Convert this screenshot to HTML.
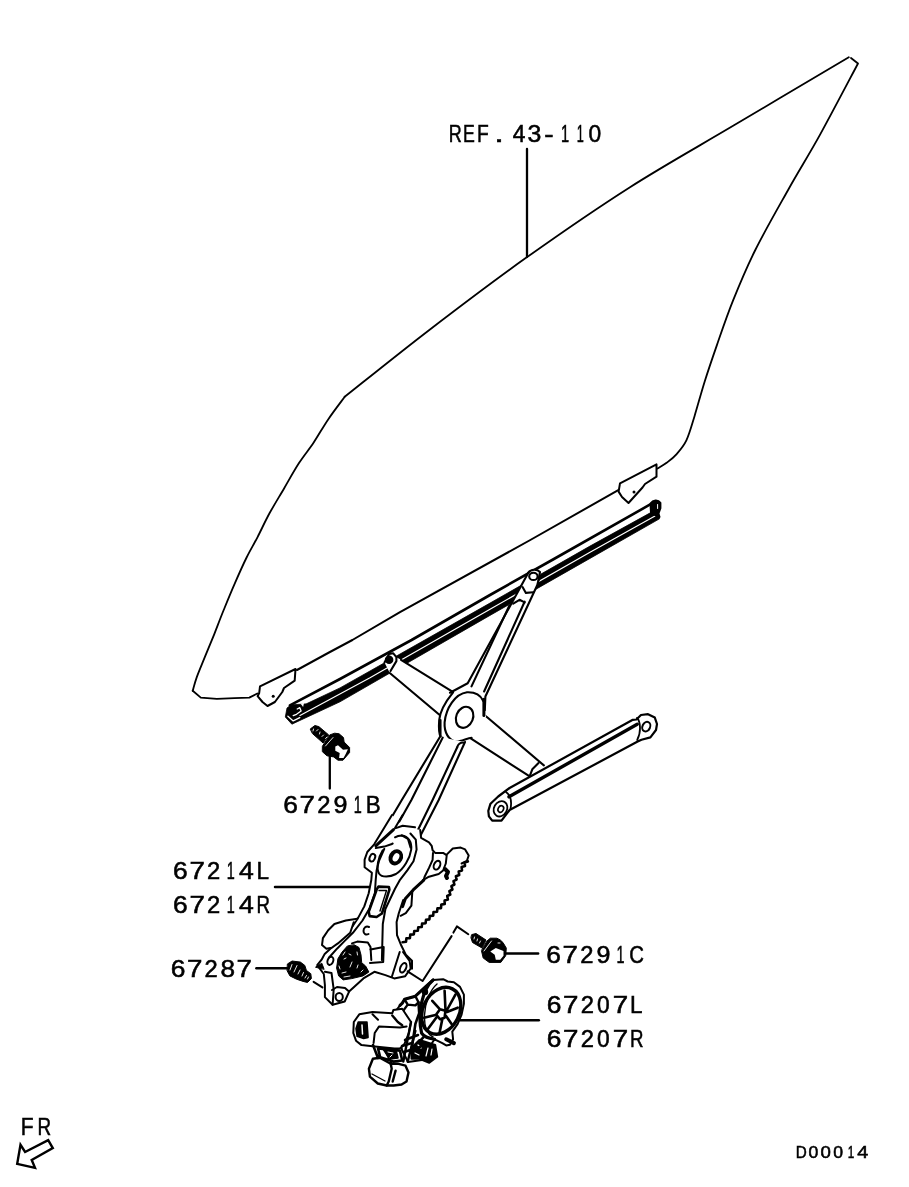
<!DOCTYPE html>
<html><head><meta charset="utf-8">
<style>
html,body{margin:0;padding:0;background:#fff;width:909px;height:1187px;overflow:hidden}
svg{position:absolute;left:0;top:0;display:block;will-change:transform}
.t{font-family:"Liberation Sans",sans-serif;font-size:23px;fill:#000;stroke:#000;stroke-width:0.55px}
</style></head><body>
<svg width="909" height="1187" viewBox="0 0 909 1187">
<g fill="none" stroke="#000" stroke-width="2" stroke-linejoin="round" stroke-linecap="round">
<!-- glass -->
<path id="glass" stroke-width="1.8" d="M848.8,57.2 C829.7,68.5 770.9,103.4 734.4,125.1 C697.9,146.8 664.7,165.1 630.0,187.2 C595.3,209.3 559.9,233.8 526.4,257.6 C492.9,281.4 459.3,307.0 429.0,330.2 C398.7,353.4 358.8,385.7 344.7,396.8"/>
<path stroke-width="1.8" d="M344.7,396.8 C342.0,400.5 333.7,411.3 328.5,418.9 C323.3,426.5 318.6,435.1 313.7,442.5 C308.8,449.9 303.9,455.5 299.0,463.1 C294.1,470.7 289.1,479.8 284.2,488.2 C279.3,496.6 273.9,505.2 269.5,513.3 C265.1,521.4 261.5,529.4 257.7,536.8 C253.9,544.2 250.5,549.6 246.6,557.5 C242.7,565.4 238.2,575.6 234.4,584.4 C230.6,593.1 227.1,601.7 223.7,610.0 C220.3,618.3 217.3,626.4 214.2,634.3 C211.0,642.2 207.7,650.0 204.8,657.2 C201.9,664.4 198.7,671.8 196.7,677.4 C194.7,683.0 193.4,688.6 192.7,690.8"/>
<path stroke-width="1.8" d="M192.7,690.8 L200.8,697.6 L216.9,698.9 L234.4,698.2 L249.3,697.6 L257.3,693.5"/>
<path stroke-width="1.8" d="M851,58 L858,63.5  C851.7,75.3 831.7,113.5 820.2,134.4 C808.7,155.3 799.6,169.4 788.8,188.7 C778.0,208.0 764.6,231.3 755.3,250.0 C746.0,268.6 739.4,284.8 733.0,300.6 C726.6,316.5 721.6,331.6 716.9,345.1 C712.2,358.6 708.4,369.7 704.7,381.5 C701.0,393.3 697.6,406.1 694.6,415.9 C691.6,425.7 689.5,433.7 686.5,440.1 C683.5,446.5 679.6,450.6 676.4,454.3 C673.1,458.0 670.2,460.1 667.0,462.5 C663.8,464.9 659.0,467.5 657.4,468.5"/>
<path d="M656.5,464.4 L656.5,476.7 L645,484 L642.5,487.5 L628.5,503 L622,497 L618.6,491.6 L620,483.3 Z"/>
<path d="M617.8,490.4 L530.3,540 L400,612.2 L352.4,640 L329,652.5 L297,670"/>
<path d="M295.5,669 L294.7,680.6 L284,688 L282.3,692 L274.9,702 L267.5,706 L262.5,702 L257.6,696.2 L259.2,693 L260,686.3 Z"/>
<!-- REF leader -->
<path stroke-width="2.3" d="M527,149 L527,257"/>
</g>
<g fill="#000">
<circle cx="634" cy="492" r="1.5"/>
<circle cx="273.2" cy="696.2" r="1.5"/>
</g>

<!-- upper rail -->
<g id="rail" fill="none" stroke="#000" stroke-linejoin="round" stroke-linecap="round">
<path stroke-width="2.6" d="M289.9,705.4 L340,679 L411.6,640 L490,595 L553.9,559 L652.4,503.2"/>
<path fill="#000" stroke-width="0.8" d="M306.4,703.8 L340,687.9 L370,671 L490,603.1 L590,546.1 L650.7,512.6 L657.8,513.5 L659.5,518.8 L590,558.4 L490,615.4 L370,684.5 L340,701.8 L291.9,724.2 L285.3,717 L287,708 L291,705 Z"/>
<path stroke="#fff" stroke-width="1.2" d="M300,715.5 L370,677.8 L490,609.3 L590,552.2 L655,516"/>
<path stroke="#fff" stroke-width="1.3" d="M287.9,716.3 L293.2,720.9 L299.8,717.6 M297.2,709 L299.8,707.7 L301.1,711 L296.5,714.3 L293.2,715.6"/><path fill="#fff" stroke="none" d="M300.5,703.6 L304,703 L303.1,707 Z"/>
<path fill="#000" stroke-width="2" d="M650.5,503.5 C653,500 658,499.5 660.4,502.9 L660.4,508.2 L658.5,513.5 L659.5,517 L651,513 Z"/><path stroke="#fff" stroke-width="1" d="M657.6,504.5 L657.6,508.5"/>
</g>
<!-- linkage -->
<g fill="none" stroke="#000" stroke-width="2.1" stroke-linejoin="round" stroke-linecap="round">
<!-- cross link -->
<path fill="#fff" stroke="none" d="M384.5,662.4 L389.1,653.9 L393.1,653.2 L396.4,657.2 L401,659.8 L453.6,692.3 L486,716.3 L543.9,765.4 L530,775.4 L470.3,738.2 L440,715.3 L389.8,673 Z"/>
<path d="M384.5,662.4 L389.1,653.9 L393.1,653.2 L396.4,657.2 L396.4,661.1 L390.5,671"/>
<path d="M401,659.8 L453.6,692.3"/>
<path d="M389.8,673 L440,715.3"/>
<path d="M486,716.3 L543.9,765.4"/>
<path d="M470.3,738.2 L529.3,776.2"/>
<path d="M538.5,763.1 L532.3,769.3 L530,775.4"/>
<circle cx="389.1" cy="659.8" r="3.2" fill="#000"/>
<!-- upper arm -->
<path fill="#fff" stroke="none" d="M528.4,572.6 L533,569 L541,572 L538.5,580.2 L537.2,585.3 L485.4,696.5 L484.8,715 L446,735 L440,715 L450,692.7 L467.7,683.3 L520.8,586.5 Z"/>
<path d="M528.4,572.6 L520.8,586.5 L467.7,683.3 L450.0,692.7"/>
<path d="M509.4,605.5 L471.5,686.4"/>
<path d="M524.6,601.7 L484.1,691.5"/>
<path d="M538.5,580.2 L537.2,585.3 L485.4,696.5 L484.8,710.1"/>
<path d="M513.2,603.6 L519.5,599.8 L524.6,602.4"/>
<path d="M522.7,587.2 L525.9,592.9 L533.4,592.2"/>
<ellipse cx="533.4" cy="576.4" rx="4.2" ry="3.6"/>
<path d="M528.4,572.6 C531,569 537,569 540,572 L538.5,580.2"/>
<!-- hub -->
<path fill="#fff" stroke="none" d="M483.1,700.8 L476.2,692.7 L467.0,692.3 L453.1,692.3 L441.5,710.8 L438.9,733.9 L440.8,737.0 L455.4,741.6 L471.6,737.7 L486,716.3 Z"/>
<path d="M483.1,700.8 C480,694 474,692 467,692.3 C455,694 446,708 444.6,722.3 C444,733 449,740 455.4,741.6 C461,742 467,738 471.6,737.7"/>
<path d="M453.1,692.3 C446,701 440,711 439.2,720 C438.6,728 439,734 440.8,737"/>
<path stroke-width="3" d="M483.9,699.2 L483.9,715.4"/>
<ellipse cx="464.6" cy="717.3" rx="8.4" ry="10.8" transform="rotate(22 464.6 717.3)"/>
<!-- lower arm -->
<path fill="#fff" stroke="none" d="M438.7,736.7 L375.2,845 L420.8,835 L465,742 Z"/>
<path d="M440.5,720 L440.5,736 L401.8,800 L375.2,845"/>
<path d="M442.7,737.6 L411.4,800 L395,829.3"/>
<path d="M457.2,747.3 L432.6,800 L414,838"/>
<path d="M457.2,747.3 C458,744 461,742.5 463.5,742.5"/>
<path d="M465,742 L438.7,800 L420.8,835"/>
</g>
<!-- lower rail -->
<g fill="none" stroke="#000" stroke-width="2.2" stroke-linejoin="round" stroke-linecap="round">
<path fill="#fff" d="M509.6,788 L632.8,719.8 L636.4,719.5 L641,715 L648,714.2 L654.8,717.6 L657,724 L656,730 L650.4,737.4 L641.5,739.8 L637.2,741.8 L509.6,810 L501.5,820.7 L492.2,820.7 L488.9,816.3 L488.3,810.8 L490.5,803.7 L498.2,796.5 Z"/>
<path stroke-width="3.4" d="M509,796.8 L637.2,724.2"/>
<ellipse cx="500.5" cy="808.8" rx="6.5" ry="8" stroke-width="1.8" transform="rotate(30 500.5 808.8)"/>
<ellipse cx="500.8" cy="809" rx="2.6" ry="3.4" stroke-width="1.6" transform="rotate(30 500.8 809)"/>
<ellipse cx="646.3" cy="726.6" rx="3.8" ry="5" stroke-width="2" transform="rotate(25 646.3 726.6)"/>
<path stroke-width="1.8" d="M506,792 C510.5,795 512,801 510.5,809"/>
<path stroke-width="1.8" d="M637,718 C641,722 641,733 637.2,740"/>
</g>
<!-- base plate -->
<g fill="none" stroke="#000" stroke-width="2" stroke-linejoin="round" stroke-linecap="round">
<path fill="#fff" stroke="none" d="M392,815 L374.2,844.3 L364.6,859.6 L364.6,867.3 L371.9,872.7 L371.3,880 L364.3,906.4 L352.9,925.8 L334.4,945.1 L321.6,959.7 L317.2,965.2 L323.8,974 L324.9,997.1 L332.6,1004.8 L344.7,1001.5 L349.1,991.6 L363.4,978.4 L374.4,971.8 L394.2,978.4 L405.2,976.2 L410.7,968.5 L409.6,960.8 L403,952 L397,935 L398.8,913.2 L405.3,898.7 L423.8,880.2 L438.7,874 L445.8,863.5 L446.7,855.5 L435.2,852.9 L432.6,850.2 L429,842.3 L421.1,837.9 L420.2,830 L402.7,825.8 Z"/>
<path d="M392.0,815.0 L374.2,844.3 L367.3,852.0 L364.6,859.6 L364.6,867.3 L371.9,872.7 L371.3,880.0 L368.7,893.2 L364.3,906.4 L358.1,917.9 L352.9,925.8 L345.8,934.6 L334.4,945.1 L324.7,953.9 L321.6,959.7 L317.2,965.2 L323.8,974.0 L324.9,985.0 L324.9,997.1 L332.6,1004.8 L344.7,1001.5 L349.1,991.6 L363.4,978.4 L374.4,971.8 L385.4,975.1 L394.2,978.4 L405.2,976.2 L410.7,968.5 L409.6,960.8 L403.0,952.0"/>
<path d="M402.7,815.0 L395.0,828.1"/>
<path stroke-width="3" d="M393.5,829.6 L375.8,845.8"/>
<path d="M375.8,848.1 L384.3,846.6 L391.2,844.3 L392.7,843.5"/>
<path d="M395.8,828.1 L402.7,825.8 L415.0,827.3"/>
<path d="M410.4,833.5 L415.8,839.6 L416.6,849.6 L413.5,861.2 L407.3,870.4 L399.6,880.4 L395,888.8 L385.4,909.0 L382.8,924.0 L381.9,960.0"/>
<path d="M384.3,848.9 L378.9,861.2 L376.6,870.4 L375.7,880.0 L374.9,893.2 L369.6,908.2 L362.5,920.5 L352.9,932.8 L344.0,941.6 L337.0,948.7 L329.1,957.5"/>
<path d="M382.7,850.4 C378,858 376,868 379,873.5 C382,878 390,877 396,874 C404,869 410,858 411.2,849.6 C412,842 408,836 402,835.5 C399,835.5 397,836 395,837.3"/>
<ellipse cx="395.8" cy="857.3" rx="7" ry="8.4" fill="#000" stroke="none" transform="rotate(28 395.8 857.3)"/><ellipse cx="396" cy="857.3" rx="3" ry="4.4" fill="#fff" stroke="none" transform="rotate(28 396 857.3)"/>
<ellipse cx="372.3" cy="857.7" rx="2.6" ry="4" transform="rotate(25 372.3 857.7)"/>
<path d="M420.2,830.0 L421.1,837.9 L429.0,842.3 L431.7,845.8 L432.6,850.2 L435.2,852.9 L443.1,852.9 L445.8,854.6"/>
<path d="M433.0,852.9 L432.6,859.9 L429.0,867.9 L424.6,876.7 L423.8,879.3"/>
<path d="M446.7,855.5 L445.8,863.5 L443.1,870.5 L438.7,874.0 L429.0,876.7 L422.9,880.2"/>
<ellipse cx="437" cy="865.2" rx="3" ry="4.6" transform="rotate(25 437 865.2)"/>
<path stroke-width="4" d="M445,869 L448,872 L446,876 L447,878"/>
<path d="M446.7,854.6 L452.8,848.5 L460.7,847.6 L465.1,849.4 L468.7,855.5 L466.9,860.8 L461.6,863.5"/>
<path stroke-width="2.6" d="M467.9,861.4 L464.6,862.5 L465.0,865.9 L461.6,867.0 L462.0,870.4 L458.7,871.5 L459.2,875.0 L455.9,876.2 L456.6,879.6 L453.5,881.1 L454.4,884.5 L451.4,886.2 L452.4,889.5 L449.4,891.2 L450.3,894.5 L447.2,896.0 L447.9,899.5 L444.6,900.6 L444.7,904.0 L441.3,904.6 L441.0,908.1 L437.5,908.3 L437.0,911.8 L433.5,912.1 L433.2,915.6 L429.8,916.0 L429.4,919.4 L426.0,919.8 L425.6,923.2 L422.1,923.6 L421.7,927.0 L418.3,927.3 L417.8,930.8 L414.3,931.0 L413.8,934.4 L410.3,934.6 L409.9,938.1 L406.4,938.3 L406.0,941.8 L402.5,942.2"/>
<path stroke-width="3" d="M423.8,880.2 L413.2,889.9 L405.3,898.7 L402.6,906.6"/>
<path d="M412.3,891.6 L411.4,905.7 L405.8,913.2 L400.6,915.8"/>
<path d="M403.2,900 L398.8,913.2 L396.6,922 L397,935.2 L401.4,945.8 L405.8,954.6 L412,960.7 L412,968.7"/>
<path d="M401.8,835.3 L407.9,838.8 L410.6,847.6"/>
<path stroke-width="2.6" d="M378.4,886.6 L388.9,887.0 L389.4,889.7 L381.9,913.5 L376.6,917.0 L369.6,916.1 L368.7,911.7 L376.6,889.7 Z"/><path stroke-width="1.4" d="M379,890.5 L386.5,890.5 L380,911"/>
<path fill="#fff" d="M357.3,918.7 L345.8,920.5 L334.4,924.0 L328.2,930.2 L322.9,938.1 L322.0,945.1 L326.4,948.7 L331.7,947.8 L337.9,943.4 L350.2,932.8 L353.7,922.3"/>
<path d="M369,927 C366,925.5 363.5,928 363.5,931 C363.5,934 366,935.5 368.5,934"/>
<path d="M352.0,943.4 L357.3,941.6 L367.8,942.5 L370.5,946.9 L371.3,960.0"/>
<path d="M370.5,949.5 L383.7,946.9 L383.2,961.9 L370,963"/>
<path fill="#000" stroke-width="1" d="M354.4,944.9 L359,947.5 L361,954.8 L361.7,962.7 L365.6,966 L368.9,972 L363,975.9 L351.8,978.6 L343.2,979.9 L338.6,975.9 L336.6,968 L337.9,958.8 L341.9,952.2 L347.2,946.2 Z"/>
<path stroke="#fff" stroke-width="0.9" d="M343,955 L345,952 M349,954 L351,955 M344,959 L346,958 M352,962 L350,967 M339,966 L340,969 M342,973 L346,972 M344,977 L350,976 M357,952 L357.5,955 M358,965 L357,968 M363,970 L361,972"/>
<path d="M324.9,971.8 L331.5,972.9 L333.7,989.4 L332.6,1004.8"/>
<ellipse cx="330.4" cy="960.8" rx="2.8" ry="4.2" transform="rotate(20 330.4 960.8)"/>
<ellipse cx="339.2" cy="997.1" rx="3.6" ry="4"/>
<path d="M332,990 L337,987 L345,988 L349,991.6"/>
<path d="M399.7,952.0 L392.0,976.2"/>
<ellipse cx="403.2" cy="967.8" rx="2.8" ry="5" transform="rotate(25 403.2 967.8)"/>
<path d="M453.4,932.6 L456.9,926.4 L468.3,934.3"/>
<path d="M451.6,936.1 L422.6,981 L407.6,971.3"/>
<path stroke-width="2.5" d="M275,887 L369,887"/>
</g>
<!-- motor -->
<g fill="none" stroke="#000" stroke-width="2" stroke-linejoin="round" stroke-linecap="round">
<path fill="#fff" d="M400,1005.4 L402.3,1003.1 L404.6,999.3 L415.4,996.2 L426.2,986.2 L433.1,980 L443.1,979.2 L447.7,981.5 L453.9,982.3 L460,986.9 L463.9,994.6 L463.9,1003.9 L461.6,1014.6 L457.7,1023.9 L452.3,1031.6 L453.1,1039.3 L450,1044.7 L446.2,1045.4 L442.3,1043.1 L434.6,1039.3 L430,1046 L422,1060 L408,1062 L402,1050 L395,1012 Z"/>
<path stroke-width="3.2" d="M433.1,980 C428,984 424,992 421.5,1003 C419.5,1013 419.5,1024 421.6,1033.1 C424,1037 428,1038 434.6,1039.3"/>
<path stroke-width="1.4" d="M437,984 C430,990 425,1003 424.5,1015 C424,1027 427,1034 433,1037"/>
<ellipse cx="441.2" cy="1010.8" rx="18.1" ry="24.6" stroke-width="3.4" transform="rotate(27 441.2 1010.8)"/>
<path stroke-width="2.6" d="M436.2,1014.6 L440.0,1009.3 L445.4,1010.8 L444.6,1017.7 L440.0,1019.3 Z M440.0,1009.3 L432.3,1000.8 M445.4,1008.5 L444.6,990.8 M447.0,1010.0 L455.4,994.6 M447.0,1012.0 L457.7,1007.7 M446.2,1016.2 L451.6,1023.9 M442.3,1019.3 L439.3,1033.9 M436.2,1017.7 L427.7,1029.3 M435.4,1015.0 L423.9,1017.7"/>
<path stroke-width="3" d="M433.1,980.0 L426.2,986.2 L415.4,996.2 L404.6,999.3 L402.3,1003.1 L400.0,1005.4"/>
<path stroke-width="2.4" d="M404.6,999.3 L407.7,1004.6 L415.4,1005.4 L418.5,1002.3 L415.4,996.2 M407.7,1004.6 L401.5,1013.1"/>
<path stroke-width="2.6" d="M418.5,1002.3 L419.2,1013.1 L415.4,1023.9 L411.5,1050.0 M423.1,1037.7 L411.5,1050.0"/>
<circle cx="425" cy="992" r="2.2" fill="#000"/>
<path stroke-width="4" d="M446.2,1039.3 L453.9,1043.1"/>
<path fill="#fff" d="M359.3,1014.3 L372.5,1012.1 L392.3,1013.2 L393.4,1009.9 L402.2,1008.8 L411,1022 L408.8,1033 L404.4,1044 L400,1048.4 L394.5,1048.4 L372.5,1046.2 L361.5,1045.1 L356,1040.7 L353.3,1033 L353.8,1022 Z"/>
<path fill="#000" stroke-width="1.5" d="M358.2,1022 L367,1022 L368.1,1037.4 L363.7,1038.5 L357.1,1036.3 L356,1028.6 Z"/>
<path stroke="#fff" stroke-width="1.5" d="M362,1025 L362.5,1034"/>
<path d="M373.6,1042.9 L374.7,1033 L379.1,1026.4 L400,1027.5 L406.6,1026.4"/>
<path d="M372.5,1014.3 L378.0,1019.8"/>
<path stroke-width="2.4" d="M392.3,1015.4 L397.8,1022.0 L402.2,1025.3"/>
<path stroke-width="2.4" d="M411.0,1022.0 L403.3,1061.6 M415.4,1030.8 L407.7,1061.6"/>
<path fill="#fff" stroke-width="2.4" d="M372.9,1058.8 L379.8,1057.8 L390.7,1063.7 L397.6,1063.7 L405.5,1065.7 L408.5,1072.6 L406.5,1081.5 L401.6,1084.5 L393.7,1085.5 L386.7,1085.5 L377.8,1083.5 L369.9,1076.6 L368.9,1068.7 Z"/>
<path stroke-width="2.4" d="M390.7,1063.7 L391.7,1068.7 L388.7,1081.5 L386.7,1085.5 M395.6,1070.6 L392.7,1081.5"/>
<path stroke-width="1.3" d="M372,1074 L385,1081"/>

<path fill="#000" stroke-width="2" d="M411.5,1047.9 L419.4,1040 L435.2,1044.9 L437.2,1056.8 L429.3,1062.7 L419.4,1058.8 L411.5,1058.8 Z"/><path stroke="#fff" stroke-width="1.2" d="M428,1048 L426,1056 M432,1049 L431,1055 M418,1045 L421,1048 M415,1053 L419,1055"/>
<path stroke-width="2.6" d="M378.0,1048.4 L400.0,1050.6 L402.2,1060.5 L393.4,1061.6 L380.2,1057.2 Z M373,1045 L378,1058 M386,1052 L391,1062"/><path fill="#000" stroke-width="1.5" d="M383,1049 L396,1050 L398,1058 L390,1059 Z"/><path stroke="#fff" stroke-width="1" d="M388,1052 L393,1053 M392,1055 L390,1057"/>
<path stroke-width="2.5" d="M405,1040 L418,1035 M404,1052 L420,1047 M402,1046 L412,1043"/>
<path stroke-width="2.5" d="M460.1,1020.3 L538.8,1020.3"/>
</g>
<!-- bolts -->
<g fill="#000" stroke="#000" stroke-width="1" stroke-linejoin="round" stroke-linecap="round">
<!-- 67291B -->
<path d="M310.5,728.8 L314.9,725.5 L318.8,726.6 L328.7,734.9 L323.2,743.1 L312.7,733.8 Z"/>
<path d="M322.6,745.9 L329.8,734.9 L334.7,733.2 L339.1,733.8 L343.5,737.6 L344.1,742 L349.6,747.5 L349.6,752.5 L343,760.2 L338,760.2 L333.6,756.9 L327,755.8 L322.6,751.9 Z"/>
<path fill="#fff" stroke="none" d="M335.3,746.4 L338,745.3 L343,749.7 L347.9,749.2 L345.7,754.1 L343.5,758 L339.1,758 L339.7,753 L335.3,750.8 Z"/>
<path fill="none" stroke="#fff" stroke-width="0.9" d="M313.5,729 L313,731 M316.5,731 L318,729.5 M319.5,734 L320,732 M322,736.5 L323.5,735 M325.5,738.5 L327,737 M325.5,746 L333,737.5"/>
<path fill="none" stroke-width="2.3" d="M329.8,756 L329.8,788.5"/>
<!-- 67291C -->
<path d="M472,934.5 L476,933.5 L486,940 L482,948 L472.5,942.5 L471,938 Z"/>
<path d="M481.5,950.9 L483.2,958 L489.2,962.4 L500.8,962.4 L505.7,955.8 L506.3,948.1 L503,942.6 L500.2,939.9 L496.9,938.2 L490.3,938.2 L487,941 Z"/>
<path fill="#fff" stroke="none" d="M490.3,951.4 L495.8,948.1 L503.5,950.9 L503.5,955.8 L500.2,959.7 L495.8,959.7 L494.7,954.7 Z"/>
<path fill="none" stroke="#fff" stroke-width="0.9" d="M474.5,937 L474,939 M477.5,939 L477,941 M480.5,941 L479.5,943 M484,951 L491.5,941 M498,943 L500,943"/>
<path fill="none" stroke-width="2.5" d="M506,953.6 L538.1,953.6"/>
<!-- 67287 -->
<path d="M287.7,963.8 L292.1,961 L300.4,962.1 L304.8,965.4 L306.4,970.4 L310.8,973.7 L311.4,978.6 L307.5,982.5 L303.1,981.4 L296.5,979.2 L289.9,975.9 L287.2,970.9 Z"/>
<path fill="none" stroke="#fff" stroke-width="0.9" d="M290,970 L292,964.5 M294,972 L297,965.5 M298,974 L300,970 M302,976 L303.5,972.5 M305,978 L306.5,975.5 M307.5,979 L308.5,977"/>
<path fill="none" stroke-width="2.5" d="M256.4,968.2 L287.2,968.2"/>
<path fill="none" stroke-width="2" d="M313.6,981.9 L322.4,987.4"/>
<path d="M315.8,967 L321.8,963.2 L324,969 Z"/>
</g>
<!-- FR arrow -->
<path fill="none" stroke="#000" stroke-width="2.4" stroke-linejoin="miter" d="M48.2,1140.2 L52.8,1148.1 L31.7,1160 L35,1167.9 L17.2,1163.9 L20.5,1144.8 L25.1,1152 Z"/>
<!-- labels -->
<g class="t">
<text transform="translate(455.55,141.5) scale(0.750,1)" x="-9.00" y="0" style="font-size:24px">R</text>
<text transform="translate(469.20,141.5) scale(0.738,1)" x="-8.50" y="0" style="font-size:24px">E</text>
<text transform="translate(483.30,141.5) scale(0.800,1)" x="-8.00" y="0" style="font-size:24px">F</text>
<text transform="translate(499.15,141.5) scale(1.433,1)" x="-3.50" y="0" style="font-size:24px">.</text>
<text transform="translate(519.40,141.5) scale(0.950,1)" x="-7.00" y="0" style="font-size:24px">4</text>
<text transform="translate(534.30,141.5) scale(1.036,1)" x="-6.50" y="0" style="font-size:24px">3</text>
<text transform="translate(548.90,141.5) scale(1.167,1)" x="-4.00" y="0" style="font-size:24px">-</text>
<text transform="translate(565.15,141.5) scale(0.610,1)" x="-7.00" y="0" style="font-size:24px">1</text>
<text transform="translate(580.55,141.5) scale(0.530,1)" x="-7.00" y="0" style="font-size:24px">1</text>
<text transform="translate(595.10,141.5) scale(0.950,1)" x="-7.00" y="0" style="font-size:24px">0</text>
<text transform="translate(290.30,812.5) scale(1.100,1)" x="-6.50" y="0" style="font-size:24px">6</text>
<text transform="translate(306.98,812.5) scale(1.155,1)" x="-6.50" y="0" style="font-size:24px">7</text>
<text transform="translate(323.66,812.5) scale(0.991,1)" x="-6.50" y="0" style="font-size:24px">2</text>
<text transform="translate(340.34,812.5) scale(1.045,1)" x="-6.50" y="0" style="font-size:24px">9</text>
<text transform="translate(357.92,812.5) scale(0.600,1)" x="-7.00" y="0" style="font-size:24px">1</text>
<text transform="translate(373.70,812.5) scale(0.931,1)" x="-8.50" y="0" style="font-size:24px">B</text>
<text transform="translate(180.25,879) scale(1.100,1)" x="-6.50" y="0" style="font-size:24px">6</text>
<text transform="translate(196.89,879) scale(1.155,1)" x="-6.50" y="0" style="font-size:24px">7</text>
<text transform="translate(213.53,879) scale(0.991,1)" x="-6.50" y="0" style="font-size:24px">2</text>
<text transform="translate(231.07,879) scale(0.600,1)" x="-7.00" y="0" style="font-size:24px">1</text>
<text transform="translate(246.81,879) scale(1.108,1)" x="-7.00" y="0" style="font-size:24px">4</text>
<text transform="translate(263.45,879) scale(0.936,1)" x="-7.50" y="0" style="font-size:24px">L</text>
<text transform="translate(180.25,912.8) scale(1.100,1)" x="-6.50" y="0" style="font-size:24px">6</text>
<text transform="translate(196.89,912.8) scale(1.155,1)" x="-6.50" y="0" style="font-size:24px">7</text>
<text transform="translate(213.53,912.8) scale(0.991,1)" x="-6.50" y="0" style="font-size:24px">2</text>
<text transform="translate(231.07,912.8) scale(0.600,1)" x="-7.00" y="0" style="font-size:24px">1</text>
<text transform="translate(246.81,912.8) scale(1.108,1)" x="-7.00" y="0" style="font-size:24px">4</text>
<text transform="translate(263.45,912.8) scale(0.779,1)" x="-9.00" y="0" style="font-size:24px">R</text>
<text transform="translate(178.00,976.8) scale(1.100,1)" x="-6.50" y="0" style="font-size:24px">6</text>
<text transform="translate(194.50,976.8) scale(1.155,1)" x="-6.50" y="0" style="font-size:24px">7</text>
<text transform="translate(211.00,976.8) scale(0.991,1)" x="-6.50" y="0" style="font-size:24px">2</text>
<text transform="translate(227.50,976.8) scale(1.091,1)" x="-6.50" y="0" style="font-size:24px">8</text>
<text transform="translate(244.00,976.8) scale(1.155,1)" x="-6.50" y="0" style="font-size:24px">7</text>
<text transform="translate(553.30,962.5) scale(1.100,1)" x="-6.50" y="0" style="font-size:24px">6</text>
<text transform="translate(569.94,962.5) scale(1.155,1)" x="-6.50" y="0" style="font-size:24px">7</text>
<text transform="translate(586.58,962.5) scale(0.991,1)" x="-6.50" y="0" style="font-size:24px">2</text>
<text transform="translate(603.22,962.5) scale(1.045,1)" x="-6.50" y="0" style="font-size:24px">9</text>
<text transform="translate(620.76,962.5) scale(0.600,1)" x="-7.00" y="0" style="font-size:24px">1</text>
<text transform="translate(636.50,962.5) scale(0.847,1)" x="-8.50" y="0" style="font-size:24px">C</text>
<text transform="translate(553.80,1012.5) scale(1.100,1)" x="-6.50" y="0" style="font-size:24px">6</text>
<text transform="translate(570.44,1012.5) scale(1.155,1)" x="-6.50" y="0" style="font-size:24px">7</text>
<text transform="translate(587.08,1012.5) scale(0.991,1)" x="-6.50" y="0" style="font-size:24px">2</text>
<text transform="translate(603.72,1012.5) scale(0.950,1)" x="-7.00" y="0" style="font-size:24px">0</text>
<text transform="translate(620.36,1012.5) scale(1.155,1)" x="-6.50" y="0" style="font-size:24px">7</text>
<text transform="translate(637.00,1012.5) scale(0.936,1)" x="-7.50" y="0" style="font-size:24px">L</text>
<text transform="translate(553.80,1046.5) scale(1.100,1)" x="-6.50" y="0" style="font-size:24px">6</text>
<text transform="translate(570.44,1046.5) scale(1.155,1)" x="-6.50" y="0" style="font-size:24px">7</text>
<text transform="translate(587.08,1046.5) scale(0.991,1)" x="-6.50" y="0" style="font-size:24px">2</text>
<text transform="translate(603.72,1046.5) scale(0.950,1)" x="-7.00" y="0" style="font-size:24px">0</text>
<text transform="translate(620.36,1046.5) scale(1.155,1)" x="-6.50" y="0" style="font-size:24px">7</text>
<text transform="translate(637.00,1046.5) scale(0.779,1)" x="-9.00" y="0" style="font-size:24px">R</text>
<text transform="translate(27.80,1135) scale(0.875,1)" x="-8.00" y="0" style="font-size:24px">F</text>
<text transform="translate(44.50,1135) scale(0.786,1)" x="-9.00" y="0" style="font-size:24px">R</text>
<text transform="translate(801.45,1157.6) scale(0.897,1)" x="-6.38" y="0" style="font-size:17px">D</text>
<text transform="translate(813.60,1157.6) scale(1.035,1)" x="-4.96" y="0" style="font-size:17px">0</text>
<text transform="translate(825.95,1157.6) scale(1.094,1)" x="-4.96" y="0" style="font-size:17px">0</text>
<text transform="translate(838.30,1157.6) scale(1.035,1)" x="-4.96" y="0" style="font-size:17px">0</text>
<text transform="translate(851.25,1157.6) scale(0.692,1)" x="-4.96" y="0" style="font-size:17px">1</text>
<text transform="translate(863.05,1157.6) scale(1.165,1)" x="-4.96" y="0" style="font-size:17px">4</text>
</g>
</svg>
</body></html>
